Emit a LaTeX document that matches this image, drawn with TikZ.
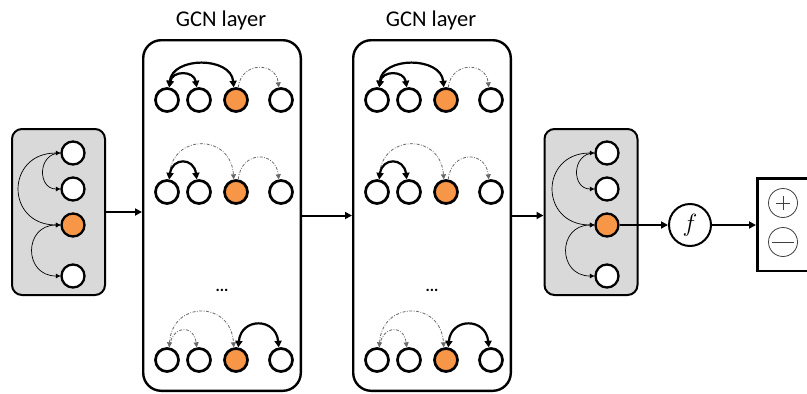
\documentclass[tikz,border=0pt]{standalone}
\usepackage{fontspec}
\newfontfamily\lab{Carlito}
\usetikzlibrary{arrows.meta}
\definecolor{nodeorange}{RGB}{247,150,70}
\definecolor{boxgray}{RGB}{217,217,217}
\definecolor{ddgray}{RGB}{105,105,105}
\begin{document}
\begin{tikzpicture}[x=1pt,y=-1pt,
  gcnnode/.style={circle,draw,line width=2.7pt,minimum size=23pt,inner sep=0pt,fill=white},
  gcnorange/.style={gcnnode,fill=nodeorange},
  graphnode/.style={circle,draw,line width=2.3pt,minimum size=23pt,inner sep=0pt,fill=white},
  graphorange/.style={graphnode,fill=nodeorange},
  graybox/.style={draw,line width=2pt,fill=boxgray,rounded corners=10pt,minimum width=93pt,minimum height=166pt,inner sep=0pt},
  gcnbox/.style={draw,line width=2.4pt,fill=white,rounded corners=18pt,minimum width=157.6pt,minimum height=350.6pt,inner sep=0pt},
  titletext/.style={font=\lab\fontsize{22.5}{26}\selectfont,inner sep=0pt},
  dotstext/.style={font=\lab\bfseries\fontsize{16}{16}\selectfont,inner sep=0pt},
  thickarc/.style={line width=2.2pt,>={Triangle[length=6.5pt,width=7pt]}},
  dasharc/.style={line width=0.8pt,ddgray,dash pattern=on 3pt off 1.5pt on 0.8pt off 1.5pt,>={Triangle[length=5pt,width=5pt]}},
  smallarc/.style={line width=0.7pt,>={Triangle[length=4.5pt,width=4.5pt]}},
  mainarrow/.style={line width=2pt,-{Triangle[length=7pt,width=7pt]}},
  signcircle/.style={circle,draw=black!75,line width=0.8pt,minimum size=29pt,inner sep=0pt}
]
\useasboundingbox (0,0) rectangle (807,394);

% left input graph
\node[graybox] (lbox) at (58.5,212) {};
\node[graphnode] (la) at (73,153) {};
\node[graphnode] (lb) at (73,189) {};
\node[graphorange] (lc) at (73,225) {};
\node[graphnode] (ld) at (73,276) {};
\draw[smallarc,<->] (la.west) .. controls +(-55,0) and +(-55,0) .. (lc.west);
\draw[smallarc,->] (la.west) .. controls +(-23,0) and +(-23,0) .. (lb.west);
\draw[smallarc,<->] (lc.west) .. controls +(-37,0) and +(-37,0) .. (ld.west);

% GCN layers
\foreach \k/\ox in {1/0,2/210} {
  \node[gcnbox] (g\k) at (222+\ox,215.5) {};
  \node[titletext] (t\k) at (221+\ox,20) {GCN layer};
  \node[dotstext] (d\k) at (222+\ox,290) {...};
  \foreach \r/\yy in {a/100,b/192,c/360} {
    \node[gcnnode] (g\k\r1) at (167+\ox,\yy) {};
    \node[gcnnode] (g\k\r2) at (199+\ox,\yy) {};
    \node[gcnorange] (g\k\r3) at (236+\ox,\yy) {};
    \node[gcnnode] (g\k\r4) at (281+\ox,\yy) {};
  }
  % row a
  \draw[thickarc,<->] (g\k a1.80) .. controls +(3,-31) and +(-3,-31) .. (g\k a3.100);
  \draw[thickarc,<->] (g\k a1.80) .. controls +(3,-17) and +(-3,-17) .. (g\k a2.100);
  \draw[dasharc,->] (g\k a3.80) .. controls +(3,-26) and +(-3,-26) .. (g\k a4.100);
  % row b
  \draw[dasharc,<->] (g\k b1.80) .. controls +(3,-46) and +(-3,-46) .. (g\k b3.100);
  \draw[dasharc,->] (g\k b3.80) .. controls +(3,-29) and +(-3,-29) .. (g\k b4.100);
  \draw[thickarc,<->] (g\k b1.80) .. controls +(3,-22) and +(-3,-22) .. (g\k b2.100);
  % row c
  \draw[dasharc,<->] (g\k c1.80) .. controls +(3,-47) and +(-3,-47) .. (g\k c3.100);
  \draw[dasharc,->] (g\k c1.80) .. controls +(3,-23) and +(-3,-23) .. (g\k c2.100);
  \draw[thickarc,<->] (g\k c3.80) .. controls +(3,-30) and +(-3,-30) .. (g\k c4.100);
}

% right output graph
\node[graybox] (rbox) at (591,212) {};
\node[graphnode] (ra) at (607,153) {};
\node[graphnode] (rb) at (607,189) {};
\node[graphorange] (rc) at (607,225) {};
\node[graphnode] (rd) at (607,276) {};
\draw[smallarc,<->] (ra.west) .. controls +(-55,0) and +(-55,0) .. (rc.west);
\draw[smallarc,->] (ra.west) .. controls +(-23,0) and +(-23,0) .. (rb.west);
\draw[smallarc,<->] (rc.west) .. controls +(-37,0) and +(-37,0) .. (rd.west);

% f node and output
\node[circle,draw,line width=2pt,minimum size=42pt,inner sep=0pt,fill=white] (fn) at (690,225) {\fontsize{24}{24}\selectfont$f$};
\node[draw,line width=2.5pt,fill=white,minimum width=80pt,minimum height=92.5pt,anchor=west,inner sep=0pt] (outb) at (756,224.5) {};
\node[signcircle] (plus) at (783,203) {};
\node[signcircle] (minus) at (783,242) {};
\draw[line width=0.8pt,black!75] (plus.center) +(-7,0) -- +(7,0);
\draw[line width=0.8pt,black!75] (plus.center) +(0,-7) -- +(0,7);
\draw[line width=0.8pt,black!75] (minus.center) +(-11,0) -- +(11,0);

% main arrows
\draw[mainarrow] (lbox.east) -- (lbox.east -| g1.west);
\draw[mainarrow] (g1.east) -- (g1.east -| g2.west);
\draw[mainarrow] (g2.east) -- (g2.east -| rbox.west);
\draw[mainarrow] (rc.east) -- (fn.west);
\draw[mainarrow] (fn.east) -- (fn.east -| outb.west);
\end{tikzpicture}
\end{document}
